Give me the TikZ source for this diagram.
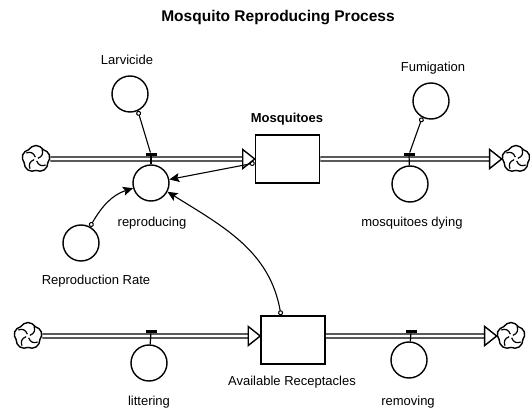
\documentclass[tikz,border=0pt]{standalone}
\usepackage{fontspec}
\setmainfont{Liberation Sans}
\usetikzlibrary{arrows,arrows.meta,positioning,shapes.symbols}

\tikzset{
  stock/.style={draw, line width=1.5pt, rectangle, minimum width=64pt, minimum height=48pt, inner sep=0pt},
  aux/.style={draw, line width=1.4pt, circle, minimum size=36pt, inner sep=0pt},
  cloudsrc/.style={draw, line width=1.4pt, cloud, cloud puffs=5, cloud puff arc=120, aspect=1, minimum width=28pt, minimum height=27pt, inner sep=0pt},
  pics/swirl/.style={code={
    \foreach \ang in {20,110,200,290}
      \draw[line width=1.2pt, rotate=\ang] (2pt,0pt) .. controls (7pt,0pt) and (9pt,3pt) .. (9pt,7pt);
  }},
  valvebar/.style={fill=black, rectangle, minimum width=11pt, minimum height=3.5pt, inner sep=0pt},
  pipe/.style={double, line width=1.4pt, double distance=2.6pt, shorten >=11pt},
  headtri/.style={draw, fill=white, line width=1.4pt, line join=miter},
  link/.style={line width=1.1pt, {Circle[open, length=5pt, line width=1pt]}-{Stealth[length=10pt, width=9pt, inset=2pt]}},
  ctrl/.style={line width=1.1pt, {Circle[open, length=5pt, line width=1pt]}-},
  lbl/.style={font=\fontsize{13}{15}\selectfont, inner sep=0pt},
  bold/.style={font=\bfseries\fontsize{13}{15}\selectfont, inner sep=0pt},
}

\begin{document}
\begin{tikzpicture}[x=1pt,y=1pt]
  \useasboundingbox (0,0) rectangle (530,410);

  \node[bold, font=\bfseries\fontsize{15.5}{18}\selectfont] (title) at (278,392) {Mosquito Reproducing Process};

  % stocks
  \node[stock] (mosq) at (287.5,251) {};
  \node[bold] (mosqL) at (287,291) {Mosquitoes};
  \node[stock] (recep) at (293,70) {};
  \node[lbl] (recepL) at (292,28) {Available Receptacles};

  % sources and sinks
  \node[cloudsrc] (cA) at (36,251) {};
  \node[cloudsrc] (cB) at (516,251) {};
  \node[cloudsrc] (cC) at (28,74) {};
  \node[cloudsrc] (cD) at (511,74) {};
  \foreach \c in {cA,cB,cC,cD}
    \pic at (\c) {swirl};

  % converters and flow rates
  \node[aux] (rep) at (151,227) {};
  \node[lbl] (repL) at (152,187) {reproducing};
  \node[aux] (dying) at (410,226) {};
  \node[lbl] (dyingL) at (412,187) {mosquitoes dying};
  \node[aux] (larv) at (130,316) {};
  \node[lbl] (larvL) at (127,350) {Larvicide};
  \node[aux] (fumi) at (431,309) {};
  \node[lbl] (fumiL) at (433,342) {Fumigation};
  \node[aux] (rrate) at (81,167) {};
  \node[lbl] (rrateL) at (96,129) {Reproduction Rate};
  \node[aux] (litter) at (149,47) {};
  \node[lbl] (litterL) at (149,8) {littering};
  \node[aux] (remov) at (409,50) {};
  \node[lbl] (removL) at (408,8) {removing};

  % pipes
  \draw[pipe] (cA) -- (mosq);
  \draw[headtri] (mosq.west) -- ++(-12,9.5) -- ++(0,-19) -- cycle;
  \draw[pipe] (mosq) -- (cB);
  \draw[headtri] (cB.west) -- ++(-12,9.5) -- ++(0,-19) -- cycle;
  \draw[pipe] (cC) -- (cC -| recep.west);
  \draw[headtri] (cC -| recep.west) -- ++(-12,9.5) -- ++(0,-19) -- cycle;
  \draw[pipe] (recep.east |- cD) -- (cD);
  \draw[headtri] (cD.west) -- ++(-12,9.5) -- ++(0,-19) -- cycle;

  % valves
  \node[valvebar] (vRep) at (151,255.5) {};
  \node[valvebar] (vDie) at (409,255.5) {};
  \node[valvebar] (vLit) at (151,78.5) {};
  \node[valvebar] (vRem) at (411,78.5) {};
  \draw[line width=1.2pt] (vRep) -- (rep);
  \draw[line width=1.2pt] (vDie) -- (dying);
  \draw[line width=1.2pt] (vLit) -- (litter);
  \draw[line width=1.2pt] (vRem) -- (remov);

  % information links
  \draw[ctrl] (larv.-65) -- (vRep);
  \draw[ctrl] (fumi.-118) -- (vDie);
  \draw[link] (mosq.187) -- (rep);
  \draw[link] (rrate.61) to[out=60, in=198] (rep.196);
  \draw[link] ([xshift=-12pt]recep.north) to[out=100, in=-32] (rep.-28);
\end{tikzpicture}
\end{document}
